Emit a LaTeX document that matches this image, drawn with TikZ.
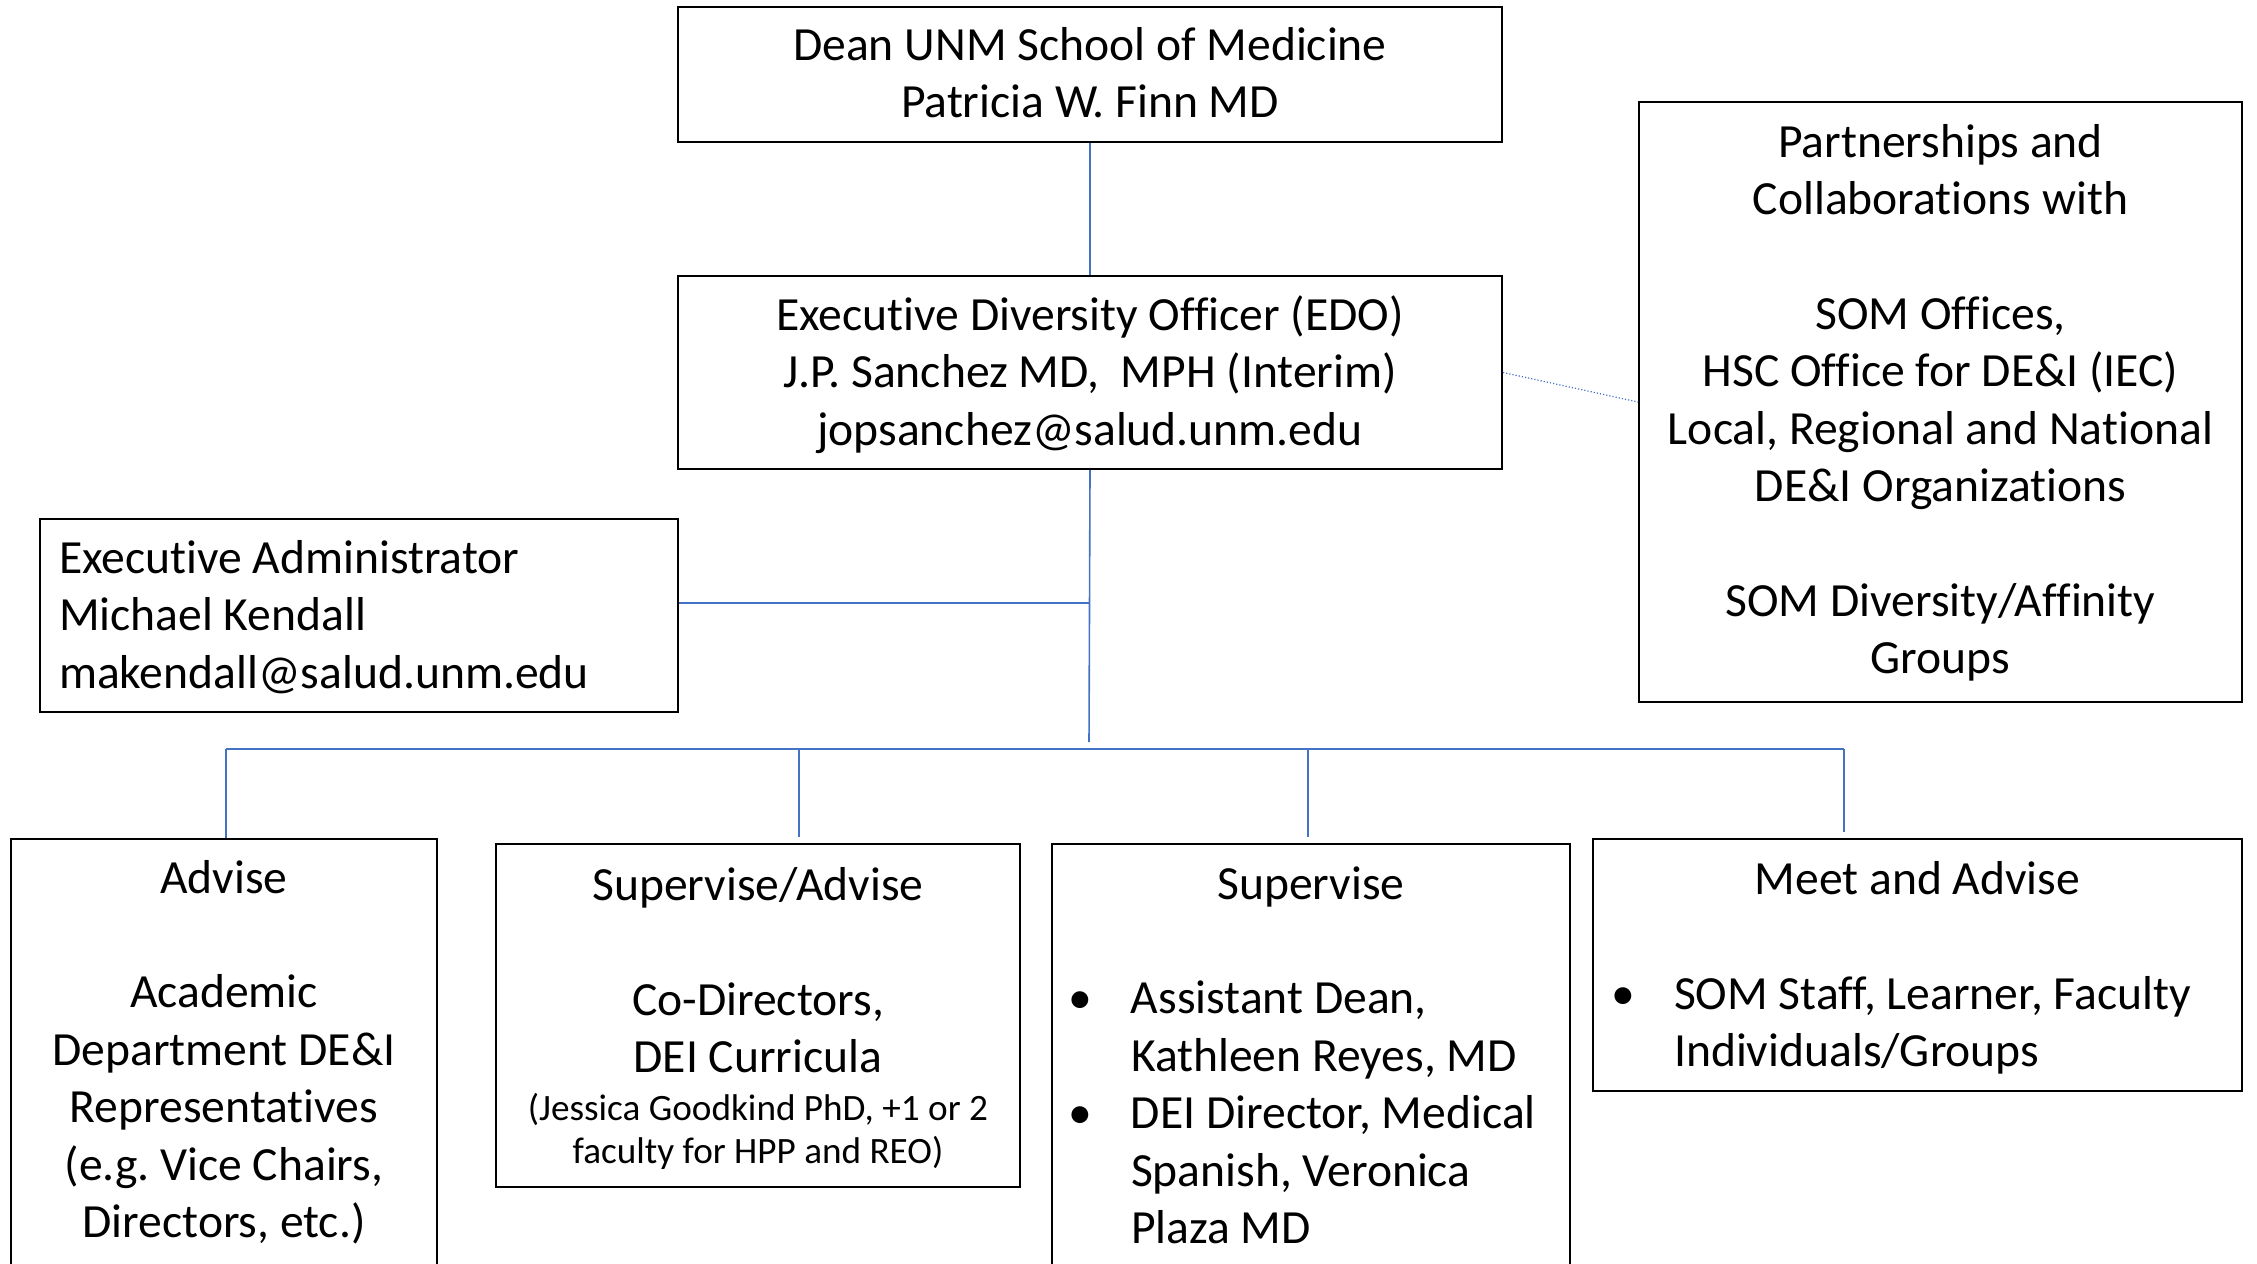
\documentclass[tikz,border=0pt]{standalone}
\usepackage{fontspec}
\setmainfont{Carlito}[Ligatures=NoCommon]
\definecolor{linkblue}{HTML}{4472C4}
\tikzset{
  box/.style={draw=black, line width=1pt, inner sep=0pt, anchor=north west},
  link/.style={draw=linkblue, line width=0.8pt},
  dotlink/.style={draw=linkblue, line width=0.6pt, densely dotted},
}
\newcommand{\bigfont}{\fontsize{23.8pt}{28.7pt}\selectfont}
\newcommand{\smallfnt}{\fontsize{18.6pt}{21.6pt}\selectfont}
\newcommand{\itembul}[1]{\hspace*{-#1}\makebox[#1][l]{\textbullet}}
\frenchspacing
\begin{document}
\begin{tikzpicture}[x=0.5pt,y=-0.5pt]
\useasboundingbox (0,0) rectangle (2257,1263);
\clip (0,0) rectangle (2257,1263);

\node[box] (dean) at (677,6) {\parbox[c][67.5pt][c]{412pt}{\centering\bigfont\vspace*{3pt}\strut Dean UNM School of Medicine\\ Patricia W. Finn MD\strut}};

\node[box] (edo) at (677,275) {\parbox[c][96.5pt][c]{412pt}{\centering\bigfont\vspace*{4pt}\strut Executive Diversity Officer (EDO)\\ J.P. Sanchez MD,~ MPH (Interim)\\ jopsanchez@salud.unm.edu\strut}};

\node[box] (part) at (1638,101) {\parbox[c][300pt][c]{301.5pt}{\centering\bigfont\vspace*{2pt}\strut Partnerships and\\ Collaborations with\\[\baselineskip] SOM Offices,\\ HSC Office for DE\&I (IEC)\\ Local, Regional and National\\ DE\&I Organizations\\[\baselineskip] SOM Diversity/Affinity\\ Groups\strut}};

\node[box] (admin) at (39,518) {\parbox[c][96.5pt][c]{319pt}{\raggedright\leftskip=9.5pt\bigfont\vspace*{4pt}\strut Executive Administrator\\ Michael Kendall\\ makendall@salud.unm.edu\strut}};

\node[box] (advise) at (10,838) {\parbox[t][250pt][t]{213pt}{\centering\bigfont\vspace*{7pt}\strut Advise\\[\baselineskip] Academic\\ Department DE\&I\\ Representatives\\ (e.g. Vice Chairs,\\ Directors, etc.)\par}};

\node[box] (supadv) at (495,843) {\parbox[c][171.5pt][c]{262pt}{\centering\bigfont\vspace*{3pt}\strut Supervise/Advise\\[\baselineskip] Co-Directors,\\ DEI Curricula\par\vspace{2.4pt}\smallfnt (Jessica Goodkind PhD, +1 or 2\\ faculty for HPP and REO)\strut\par}};

\node[box] (superv) at (1051,843) {\parbox[t][250pt][t]{259pt}{\centering\bigfont\vspace*{7.5pt}\strut Supervise\par\vspace{\baselineskip}\raggedright\leftskip=39.5pt
\itembul{31.5pt}Assistant Dean,\\ Kathleen Reyes, MD\\ \itembul{31.5pt}DEI Director, Medical\\ Spanish, Veronica\\ Plaza MD\par}};

\node[box] (meet) at (1592,838) {\parbox[c][126pt][c]{324.5pt}{\centering\bigfont\vspace*{4pt}\strut Meet and Advise\par\vspace{\baselineskip}\raggedright\leftskip=40.5pt
\itembul{31.5pt}SOM Staff, Learner, Faculty\\ Individuals/Groups\strut\par}};

\coordinate (trunkend) at (1089,742);
\coordinate (jadmin) at (1089,603);
\coordinate (busL) at (226,749);
\coordinate (busR) at (1844,749);
\coordinate (b2) at (799,749);
\coordinate (b3) at (1308,749);

\draw[link] (dean.south) -- (edo.north);
\draw[link] (edo.south) -- (trunkend);
\draw[link] (admin.east |- jadmin) -- (jadmin);
\draw[link] (busL) -- (busR);
\draw[link] (busL) -- (advise.north -| busL);
\draw[link, shorten >=3pt] (b2) -- (supadv.north -| b2);
\draw[link, shorten >=3pt] (b3) -- (superv.north -| b3);
\draw[link, shorten >=3pt] (busR) -- (meet.north -| busR);
\draw[dotlink] (edo.east) -- (part.west);
\end{tikzpicture}
\end{document}
